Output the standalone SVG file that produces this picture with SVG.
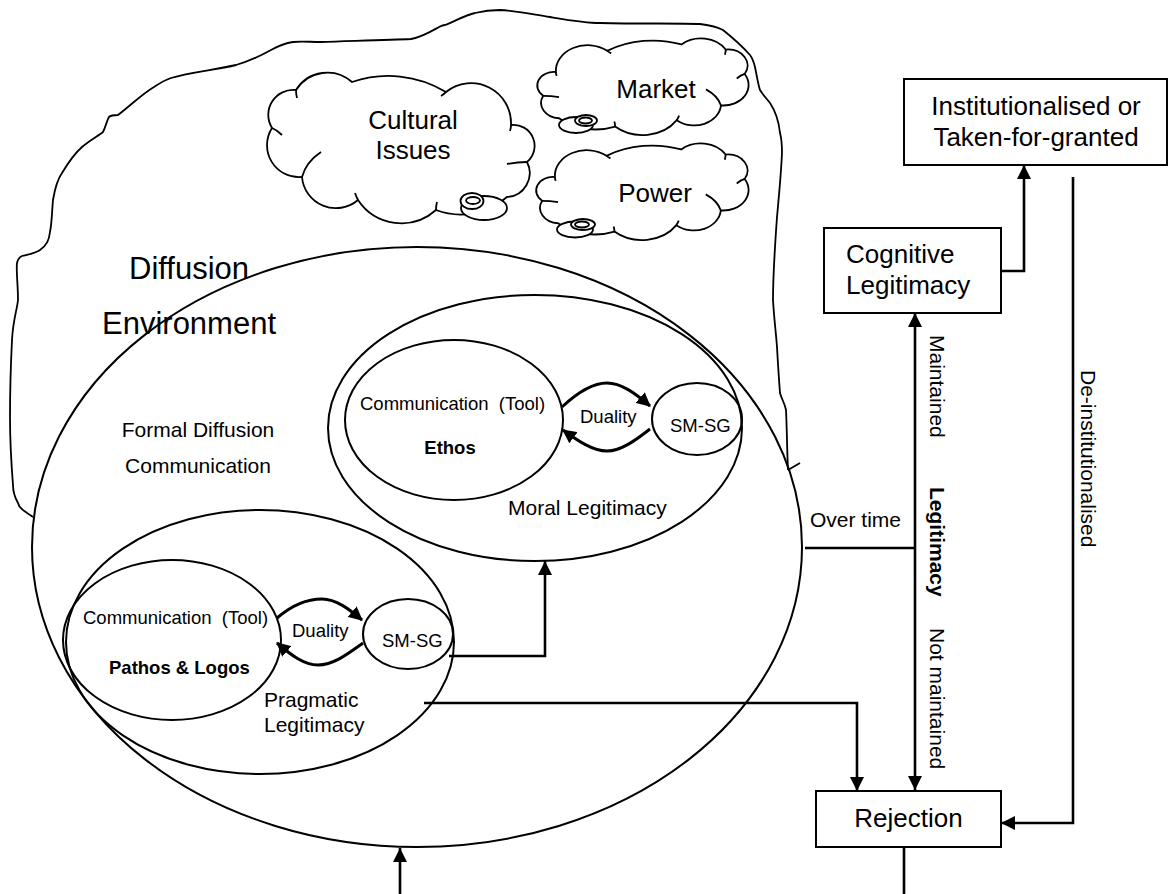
<svg xmlns="http://www.w3.org/2000/svg" xmlns:xlink="http://www.w3.org/1999/xlink" width="1171" height="894" viewBox="0 0 1171 894">
  <style>
    .ln { fill: none; stroke: #000; stroke-width: 2; }
    .thin { fill: none; stroke: #000; stroke-width: 1.8; }
    .conn { fill: none; stroke: #000; stroke-width: 2.6; }
    .dual { fill: none; stroke: #000; stroke-width: 3; }
    .box { fill: #fff; stroke: #000; stroke-width: 2; }
    .bub { fill: #fff; stroke: #000; stroke-width: 1.8; }
    text { font-family: "Liberation Sans", Arial, sans-serif; fill: #000; }
    .t18 { font-size: 18.5px; }
    .t21 { font-size: 21px; }
    .t26 { font-size: 26px; }
    .t31 { font-size: 31px; }
    .b { font-weight: bold; }
    .mid { text-anchor: middle; }
  </style>
  <defs>
    <marker id="arrow" viewBox="0 0 14 14" refX="14" refY="7" markerWidth="14" markerHeight="14" markerUnits="userSpaceOnUse" orient="auto-start-reverse">
      <path d="M0,0 L14,7 L0,14 z" fill="#000"/>
    </marker>
    <marker id="arrowS" viewBox="0 0 14 14" refX="13" refY="7" markerWidth="14" markerHeight="14" markerUnits="userSpaceOnUse" orient="auto">
      <path d="M0,0 L14,7 L0,14 z" fill="#000"/>
    </marker>
    <!-- cloud outline in a 272 x 151 local box, lobes as arcs plus inner creases -->
    <g id="cloud">
      <path vector-effect="non-scaling-stroke" fill="#fff" stroke="#000" stroke-width="1.8"
        d="M8,56 A25,25 0 0 1 32,18 A37,37 0 0 1 88,10 A112,112 0 0 1 182,20 A40,40 0 0 1 247,53 A21,21 0 0 1 263,90 A24,24 0 0 1 243,125 A70,70 0 0 1 172,138 A52,52 0 0 1 94,128 A34,34 0 0 1 38,105 A32,32 0 0 1 8,56 Z"/>
      <path vector-effect="non-scaling-stroke" fill="none" stroke="#000" stroke-width="1.8"
        d="M8,56 Q13,58 18,63 M32,18 Q32,22 33,26 M182,20 Q180,22 177,24 M247,53 Q247,56 246,59 M243,92 Q253,90 263,90 M172,138 Q172,134 173,130 M94,128 Q92,124 91,121 M57,80 Q42,90 38,105"/>
    </g>
  </defs>

  <!-- environment outline -->
  <g id="environment">
    <path class="thin" d="M33,517 C24,511 19,508 18,503 C14,496 13,490 13,485 C11,460 10,440 10,417 C10,390 11,360 12,340 C13,320 17,310 18,300 C18,285 16,270 17,263 C18,258 20,257 22,256 C30,254 36,253 40,250 C47,245 49,240 50,232 C52,222 52,210 53,200 C55,188 57,180 62,173 C68,163 74,154 82,147 C90,140 98,136 103,132 C106,126 107,120 109,117 C111,115 114,115 118,115 C130,106 142,94 154,87 C160,83 165,80 171,78 C190,72 215,70 236,65 C250,61 262,55 271,50 C280,45 286,43 293,42 C300,41 310,42 321,42 C350,41 390,40 411,39 C422,37 430,32 439,27 C441,26 443,25 445,25 C455,21 466,15 475,13 C483,11 492,10 500,10 C518,11 535,15 550,17 C568,20 585,23 600,23 C640,24 680,23 700,24 C710,25 717,27 723,30 C733,38 742,46 750,55 C753,59 754,63 755,67 C757,77 758,84 760,90 C763,95 767,99 770,103 C776,112 779,123 780,133 C782,140 782,147 782,153 C781,175 779,195 777,217 C775,245 773,275 773,300 C774,318 776,333 777,347 C778,365 779,380 780,393 C782,400 785,404 786,410 C787,430 787,450 788,470"/>
    <path class="thin" d="M788,470 L800,463"/>
  </g>

  <!-- clouds with their thought bubbles -->
  <g id="cloud-cultural">
    <use href="#cloud" xlink:href="#cloud" transform="translate(264,72)"/>
    <ellipse class="bub" cx="484" cy="208" rx="23" ry="12"/>
    <ellipse class="bub" cx="472" cy="201" rx="11.5" ry="8"/>
    <ellipse class="bub" cx="473" cy="200.5" rx="7" ry="3.5"/>
    <text class="t26 mid" x="413" y="129">Cultural</text>
    <text class="t26 mid" x="413" y="159">Issues</text>
  </g>
  <g id="cloud-market">
    <use href="#cloud" xlink:href="#cloud" transform="translate(751,38) scale(-0.79,0.642)"/>
    <ellipse class="bub" cx="576" cy="125" rx="17" ry="8"/>
    <ellipse class="bub" cx="586" cy="120.5" rx="11" ry="5.5"/>
    <ellipse class="bub" cx="585.5" cy="120.5" rx="6.5" ry="3"/>
    <text class="t26 mid" x="656" y="98">Market</text>
  </g>
  <g id="cloud-power">
    <use href="#cloud" xlink:href="#cloud" transform="translate(751,143) scale(-0.794,0.642)"/>
    <ellipse class="bub" cx="575" cy="229.5" rx="18" ry="8"/>
    <ellipse class="bub" cx="583" cy="224.5" rx="12" ry="5.5"/>
    <ellipse class="bub" cx="582" cy="224.5" rx="7" ry="3"/>
    <text class="t26 mid" x="655" y="202">Power</text>
  </g>

  <!-- diffusion environment -->
  <g id="diffusion">
    <ellipse class="ln" cx="417" cy="547" rx="385" ry="300"/>
    <text class="t31" x="129" y="279">Diffusion</text>
    <text class="t31" x="102" y="334">Environment</text>
    <text class="t21 mid" x="198" y="437">Formal Diffusion</text>
    <text class="t21 mid" x="198" y="473">Communication</text>
  </g>

  <!-- moral legitimacy -->
  <g id="moral">
    <ellipse class="ln" cx="535" cy="428" rx="207" ry="133"/>
    <text class="t21" x="508" y="515">Moral Legitimacy</text>
  </g>
  <g id="ethos">
    <ellipse class="ln" cx="454" cy="420" rx="109" ry="80"/>
    <text class="t18" x="360" y="410" xml:space="preserve">Communication  (Tool)</text>
    <text class="t18 b mid" x="450" y="454">Ethos</text>
  </g>
  <g id="smsg-moral">
    <ellipse class="ln" cx="697" cy="419" rx="45" ry="36"/>
    <text class="t18" x="670" y="432">SM-SG</text>
  </g>

  <!-- pragmatic legitimacy -->
  <g id="pragmatic">
    <ellipse class="ln" cx="260" cy="642" rx="194" ry="132"/>
    <text class="t21" x="264" y="707">Pragmatic</text>
    <text class="t21" x="264" y="732">Legitimacy</text>
  </g>
  <g id="pathos">
    <ellipse class="ln" cx="172" cy="640" rx="109" ry="80"/>
    <text class="t18" x="83" y="624" xml:space="preserve">Communication  (Tool)</text>
    <text class="t18 b" x="109" y="674">Pathos &amp; Logos</text>
  </g>
  <g id="smsg-pragmatic">
    <ellipse class="ln" cx="408" cy="634" rx="45" ry="35"/>
    <text class="t18" x="382" y="647">SM-SG</text>
  </g>

  <!-- outcome boxes -->
  <g id="institutionalised">
    <rect class="box" x="904" y="79" width="263" height="86"/>
    <text class="t26 mid" x="1036" y="115">Institutionalised or</text>
    <text class="t26 mid" x="1036" y="146">Taken-for-granted</text>
  </g>
  <g id="cognitive">
    <rect class="box" x="824" y="228" width="177" height="85"/>
    <text class="t26" x="846" y="263">Cognitive</text>
    <text class="t26" x="846" y="294">Legitimacy</text>
  </g>
  <g id="rejection">
    <rect class="box" x="816" y="791" width="185" height="56"/>
    <text class="t26 mid" x="908.5" y="827">Rejection</text>
  </g>

  <!-- connectors -->
  <g id="connectors">
    <path class="dual" d="M562,407 C578,392 593,383 607,383 C621,383 635,393 650,406" marker-end="url(#arrowS)"/>
    <path class="dual" d="M650,429 C636,440 621,451 607,451 C593,451 578,441 563,430" marker-end="url(#arrowS)"/>
    <path class="dual" d="M277,618 C291,606 306,599 322,599 C336,599 349,609 362,620" marker-end="url(#arrowS)"/>
    <path class="dual" d="M363,643 C349,653 334,665 318,665 C304,665 291,655 277,643" marker-end="url(#arrowS)"/>

    <path class="conn" d="M449,656 H545 V561" marker-end="url(#arrow)"/>
    <path class="conn" d="M424,703 H857 V791" marker-end="url(#arrow)"/>
    <path class="conn" d="M805,548 H915"/>
    <path class="conn" d="M915,790 V313" marker-start="url(#arrow)" marker-end="url(#arrow)"/>
    <path class="conn" d="M1001,271 H1024 V165" marker-end="url(#arrow)"/>
    <path class="conn" d="M1073,177 V823 H1001" marker-end="url(#arrow)"/>
    <path class="conn" d="M904,847 V894"/>
    <path class="conn" d="M400,894 V848" marker-end="url(#arrow)"/>

    <text class="t21" x="810" y="527">Over time</text>
    <text class="t21" transform="translate(930,335) rotate(90)">Maintained</text>
    <text class="t21 b" transform="translate(930,487) rotate(90)">Legitimacy</text>
    <text class="t21" transform="translate(930,628) rotate(90)">Not maintained</text>
    <text class="t21" transform="translate(1081,370) rotate(90)">De-institutionalised</text>
    <text class="t18" x="580" y="423">Duality</text>
    <text class="t18" x="292" y="637">Duality</text>
  </g>
</svg>
